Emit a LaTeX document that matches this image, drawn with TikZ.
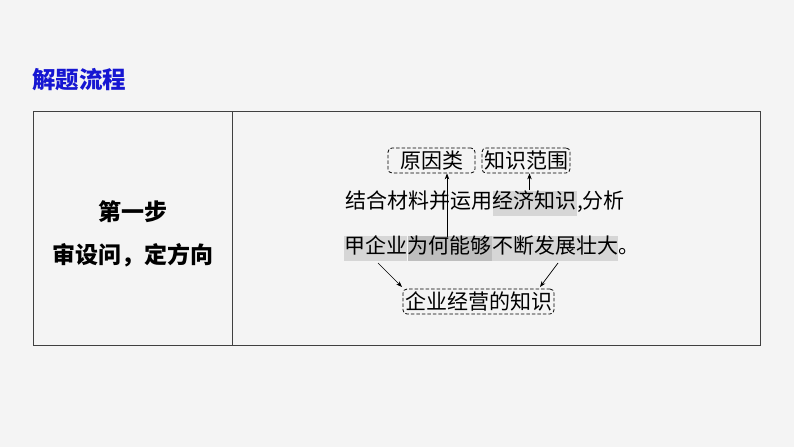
\documentclass[tikz,border=0pt]{standalone}
\usepackage{fontspec}
\setmainfont{Noto Sans CJK SC}
\usetikzlibrary{positioning,arrows.meta}
\definecolor{pagebg}{RGB}{244,244,244}
\definecolor{headblue}{RGB}{22,22,210}
\definecolor{hllight}{RGB}{214,214,214}
\definecolor{hldark}{RGB}{190,190,190}
\tikzset{
  txt/.style={inner xsep=0pt, inner ysep=2.5pt, text height=15pt, text depth=5pt, font=\fontsize{21}{24}\selectfont, text=black},
  hl/.style={txt, fill=hllight},
  hldeep/.style={txt, fill=hldark},
  tagbox/.style={draw=black, line width=0.8pt, dash pattern=on 3.5pt off 2pt, rounded corners=4pt, inner sep=0pt, minimum height=25pt, font=\fontsize{21}{24}\selectfont, text=black},
  pointer/.style={-{Stealth[length=6pt,width=4.5pt]}, black, line width=0.7pt},
  stepfont/.style={font=\fontsize{23}{26}\selectfont\bfseries}
}
\begin{document}
\begin{tikzpicture}[x=1pt, y=-1pt]
    \fill[pagebg] (0,0) rectangle (794,447);
    \useasboundingbox (0,0) rectangle (794,447);

    % heading
    \node[anchor=west, inner sep=0pt, text=headblue, font=\fontsize{23.5}{26}\selectfont\bfseries] (title) at (32,80) {解题流程};

    % table frame
    \draw[black!75, line width=1pt] (33,111) rectangle (760,345);
    \draw[black!75, line width=1pt] (232,111) -- (232,345);

    % left cell
    \node[stepfont] (stepno) at (133,212) {第一步};
    \node[stepfont] (stepname) at (133,255) {审设问，定方向};

    % question, line 1
    \node[txt, anchor=west] (qa) at (345,203) {结合材料并运用};
    \node[hl, right=0pt of qa] (qb) {经济知识};
    \node[txt, right=0pt of qb] (qc) {,分析};

    % question, line 2
    \node[hl, anchor=west] (qd) at (344,248.5) {甲企业};
    \node[hldeep, right=0pt of qd] (qe) {为何能够};
    \node[hl, right=0pt of qe] (qf) {不断发展壮大};
    \node[txt, right=0pt of qf] (qg) {。};

    % tags
    \node[tagbox, minimum width=87pt] (reason) at (431.5,160.5) {原因类};
    \node[tagbox, minimum width=88pt] (scope) at (526,160.5) {知识范围};
    \node[tagbox, minimum width=151pt] (firm) at (478.5,301.5) {企业经营的知识};

    % arrows
    \coordinate (up1) at (447,237);
    \coordinate (up2) at (529.5,190);
    \coordinate (dn1) at (378,263);
    \coordinate (dn2) at (558,263);
    \coordinate (in1) at (402,287);
    \coordinate (in2) at (540,287);
    \draw[pointer] (up1) -- (up1 |- reason.south);
    \draw[pointer] (up2) -- (up2 |- scope.south);
    \draw[pointer] (dn1) -- (in1);
    \draw[pointer] (dn2) -- (in2);
\end{tikzpicture}
\end{document}
